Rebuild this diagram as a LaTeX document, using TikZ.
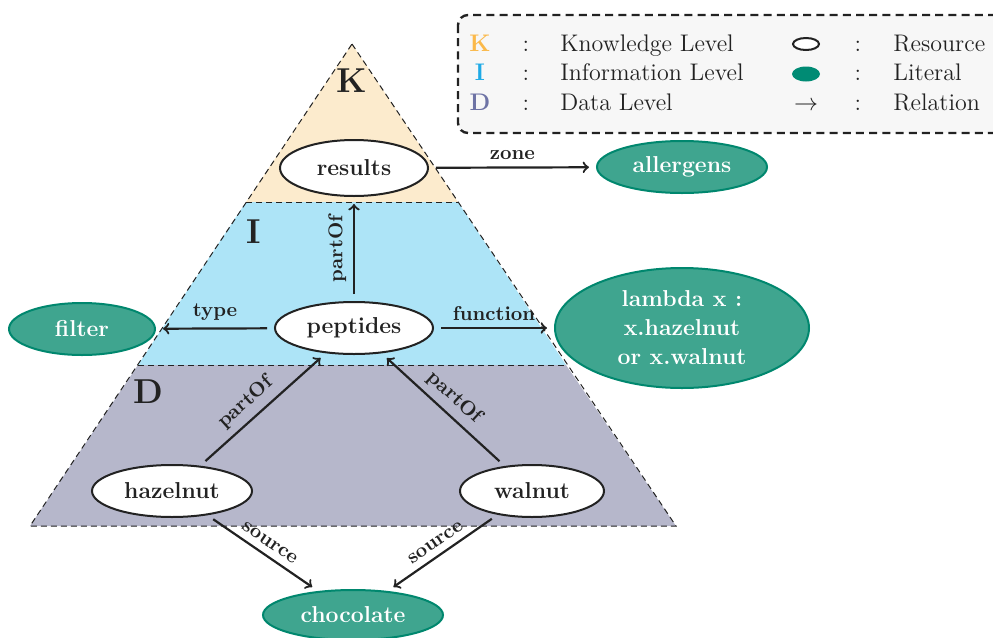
\documentclass[tikz,border=0pt]{standalone}
\usetikzlibrary{shapes.geometric}
\definecolor{kfill}{RGB}{252,235,205}
\definecolor{ifill}{RGB}{173,228,247}
\definecolor{dfill}{RGB}{182,183,203}
\definecolor{litfill}{RGB}{63,165,143}
\definecolor{litdraw}{RGB}{0,135,110}
\definecolor{litleg}{RGB}{0,139,116}
\definecolor{kcol}{RGB}{251,185,74}
\definecolor{icol}{RGB}{30,170,230}
\definecolor{dcol}{RGB}{110,115,165}
\definecolor{legfill}{RGB}{247,247,247}
\definecolor{ink}{RGB}{34,34,34}
\begin{document}
\begin{tikzpicture}[x=0.5pt,y=-0.5pt,
  resnode/.style={ellipse, draw=ink, line width=1pt, fill=white, inner sep=0pt,
    font=\fontsize{11.5}{14.5}\selectfont\bfseries, text=ink},
  litnode/.style={ellipse, draw=litdraw, line width=1pt, fill=litfill, inner sep=0pt,
    font=\fontsize{11.5}{14.5}\selectfont\bfseries, text=white, align=center},
  rel/.style={->, line width=1.1pt, draw=ink, shorten >=3.5pt, shorten <=3.5pt},
  lab/.style={font=\normalsize\bfseries, text=ink},
  lvl/.style={font=\LARGE\bfseries, text=ink},
  legtxt/.style={font=\large, text=ink, anchor=base west, inner sep=0pt},
  legmid/.style={font=\large, text=ink, anchor=base, inner sep=0pt},
  legletter/.style={font=\large\bfseries, anchor=base, inner sep=0pt},
  tridash/.style={draw=ink, line width=0.5pt, dash pattern=on 3pt off 2pt}
]
\path[use as bounding box, clip] (0,0) rectangle (993,638);

% level regions
\fill[kfill] (352,44) -- (246,202) -- (458,202) -- cycle;
\fill[ifill] (246,202) -- (458,202) -- (566,365) -- (138,365) -- cycle;
\fill[dfill] (138,365) -- (566,365) -- (676,526) -- (30,526) -- cycle;
\draw[tridash] (352,44) -- (676,526) -- (30,526) -- cycle;
\draw[tridash] (246,202) -- (458,202);
\draw[tridash] (138,365) -- (566,365);

\node[lvl] (lk) at (352,81) {K};
\node[lvl] (li) at (254,232) {I};
\node[lvl] (ld) at (148,392) {D};

% legend
\draw[fill=legfill, line width=1.2pt, dash pattern=on 4pt off 2.6pt, rounded corners=5pt, draw=ink]
  (458,15) rectangle (1010,133);
\node[legletter, text=kcol] (lgk) at (480,51) {K};
\node[legletter, text=icol] (lgi) at (480,80) {I};
\node[legletter, text=dcol] (lgd) at (480,110) {D};
\node[legmid] (c1) at (526,51) {:};
\node[legmid] (c2) at (526,80) {:};
\node[legmid] (c3) at (526,110) {:};
\node[legtxt] (t1) at (560,51) {Knowledge Level};
\node[legtxt] (t2) at (560,80) {Information Level};
\node[legtxt] (t3) at (560,110) {Data Level};
\node[ellipse, draw=ink, line width=1pt, fill=white, minimum width=13pt, minimum height=6pt, inner sep=0pt] (sres) at (806,44) {};
\node[ellipse, fill=litleg, minimum width=14pt, minimum height=7.5pt, inner sep=0pt] (slit) at (806,74) {};
\node[legmid] (srel) at (806,110) {$\rightarrow$};
\node[legmid] (c4) at (858,51) {:};
\node[legmid] (c5) at (858,80) {:};
\node[legmid] (c6) at (858,110) {:};
\node[legtxt] (t4) at (893,51) {Resource};
\node[legtxt] (t5) at (893,80) {Literal};
\node[legtxt] (t6) at (893,110) {Relation};

% nodes
\node[resnode, minimum width=74pt, minimum height=28pt] (results) at (354,168) {results};
\node[resnode, minimum width=79pt, minimum height=26pt] (peptides) at (354,328) {peptides};
\node[resnode, minimum width=80pt, minimum height=26pt] (hazelnut) at (172,491) {hazelnut};
\node[resnode, minimum width=72pt, minimum height=26pt] (walnut) at (532,491) {walnut};
\node[litnode, minimum width=85pt, minimum height=26pt] (allergens) at (682,167) {allergens};
\node[litnode, minimum width=73pt, minimum height=26pt] (filter) at (82,329) {filter};
\node[litnode, minimum width=127pt, minimum height=60pt] (lambda) at (682,328) {lambda x :\\x.hazelnut\\or x.walnut};
\node[litnode, minimum width=90pt, minimum height=25pt] (chocolate) at (353,615) {chocolate};

% relations
\draw[rel] (results) -- node[lab, above] {zone} (allergens);
\draw[rel] (peptides) -- node[lab, above, sloped] {partOf} (results);
\draw[rel] (peptides) -- node[lab, above] {type} (filter);
\draw[rel] (peptides) -- node[lab, above] {function} (lambda);
\draw[rel] (hazelnut) -- node[lab, above, sloped, pos=0.45] {partOf} (peptides);
\draw[rel] (walnut) -- node[lab, above, sloped, pos=0.5] {partOf} (peptides);
\draw[rel] (hazelnut) -- node[lab, above, sloped] {source} (chocolate);
\draw[rel] (walnut) -- node[lab, above, sloped] {source} (chocolate);
\end{tikzpicture}
\end{document}
